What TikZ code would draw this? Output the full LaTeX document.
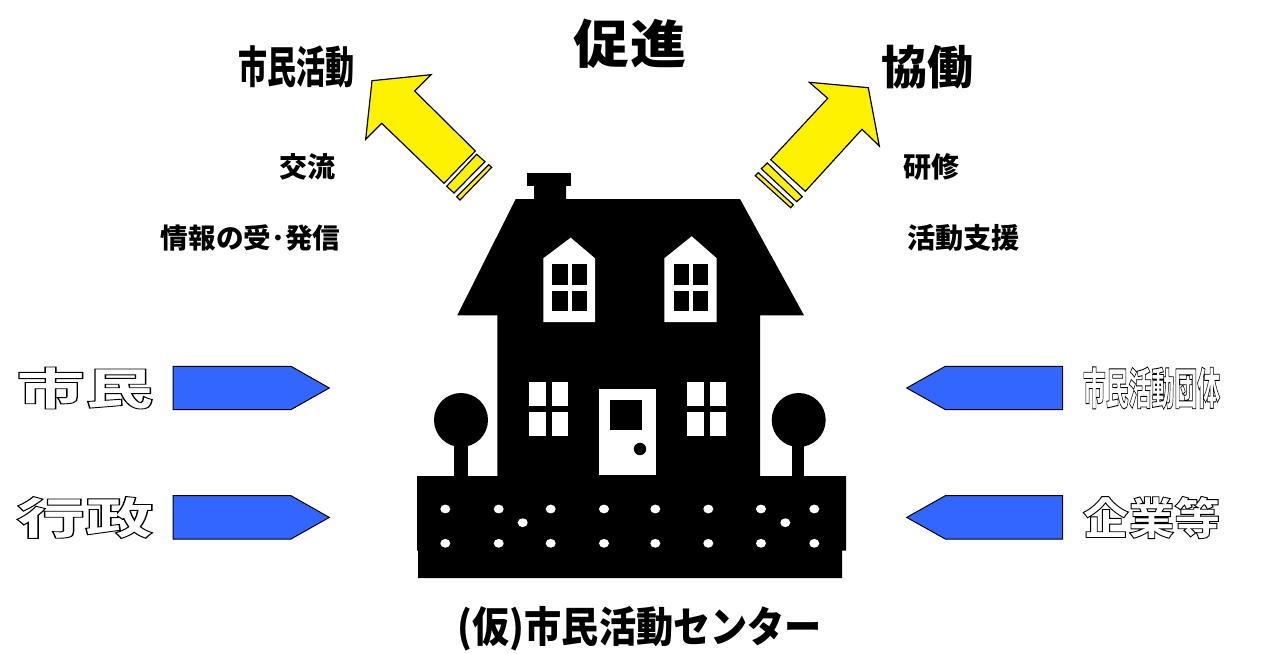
\documentclass[tikz,border=0pt]{standalone}
\usepackage{fontspec}
\usepackage{tikz}
\newfontfamily\jpfont{Noto Sans CJK JP}
\newcommand{\outlined}[1]{\special{pdf:code q 2 Tr 0.9 w 0 0 0 RG 1 1 1 rg}#1\special{pdf:code Q}}
\tikzset{
    label text/.style={inner sep=0pt,font=\jpfont\bfseries\fontsize{#1}{#1}\selectfont},
    squeeze/.style={xscale=#1,transform shape},
    outline text/.style={inner sep=0pt,font=\jpfont\bfseries\fontsize{#1}{#1}\selectfont},
    big arrow/.style={draw=black,line width=1.2pt,fill=yellow,line join=miter},
    side arrow/.style={draw=black,line width=1pt,fill=sideblue},
    silhouette/.style={fill=black},
    cutout/.style={fill=white}
}
\definecolor{sideblue}{HTML}{3366FF}
\begin{document}
\begin{tikzpicture}[x=1pt,y=-1pt]
    \useasboundingbox (0,0) rectangle (1271,653);
    % headings
    \node [label text=52,squeeze=1.08] (promote) at (630,44) {促進};
    \node [label text=44,squeeze=0.66] (activity) at (296.5,67) {市民活動};
    \node [label text=46,squeeze=1.0] (collab) at (927,67) {協働};
    % small captions
    \node [label text=28] (exchange) at (307,167) {交流};
    \node [label text=27.6] (info) at (250.5,238) {情報の受･発信};
    \node [label text=28] (training) at (931,167) {研修};
    \node [label text=28.2] (support) at (963.5,238) {活動支援};
    \node [label text=42,squeeze=0.885] (center) at (640,628.5) {(仮)市民活動センター};
    % outlined names beside the blue arrows
    \node [outline text=44,squeeze=1.56] (citizen) at (85,388) {\outlined{市民}};
    \node [outline text=44,squeeze=1.56] (admin) at (85,517.5) {\outlined{行政}};
    \node [outline text=44,squeeze=0.52] (groups) at (1151.5,388) {\outlined{市民活動団体}};
    \node [outline text=44,squeeze=1.04] (company) at (1151.5,517.5) {\outlined{企業等}};
    % blue arrows
    \foreach \y in {366.3,495.7} {
        \draw [side arrow] (173,\y) -- (291,\y) -- (329.3,\y+21.7) -- (291,\y+43.3) -- (173,\y+43.3) -- cycle;
        \draw [side arrow] (1062.7,\y) -- (945.3,\y) -- (906.7,\y+21.7) -- (945.3,\y+43.3) -- (1062.7,\y+43.3) -- cycle;
    }
    % yellow arrows
    \draw [big arrow] (372,80.7) -- (431,74.7) -- (414.7,91) -- (475.3,151) -- (444,183.3) -- (381.7,123.3) -- (365.7,139.3) -- cycle;
    \draw [big arrow] (476.7,154.3) -- (485,161.7) -- (454,193) -- (446.7,186.3) -- cycle;
    \draw [big arrow] (488.7,164.7) -- (491.7,167.3) -- (460,200) -- (456.7,196.7) -- cycle;
    \draw [big arrow] (868.3,87.7) -- (879.3,146) -- (862,129.3) -- (805.3,191.3) -- (770.7,159.7) -- (827.7,98.3) -- (809.3,82.3) -- cycle;
    \draw [big arrow] (767.3,163) -- (802.3,196.7) -- (796.7,201.7) -- (761.3,168.7) -- cycle;
    \draw [big arrow] (758.3,172.7) -- (793.3,204.7) -- (790.7,207.7) -- (755.3,175.7) -- cycle;
    % house
    \fill [silhouette] (527,173) rectangle (571,186);
    \fill [silhouette] (534,186) -- (566,186) -- (566,199) -- (740,199) -- (804,315.3) -- (760,315.3) -- (760,476)
        -- (846,476) -- (846,550.7) -- (842,550.7) -- (842,578) -- (418,578) -- (418,550.7) -- (417,550.7) -- (417,476)
        -- (497.3,476) -- (497.3,315.3) -- (457.3,315.3) -- (515.7,199) -- (534,199) -- cycle;
    % dormers
    \fill [cutout] (543.3,322) -- (543.3,258.3) -- (570.7,237.7) -- (595,258.3) -- (595,322) -- cycle;
    \fill [cutout] (664.3,322) -- (664.3,258.3) -- (691.7,236.3) -- (716.7,258.3) -- (716.7,322) -- cycle;
    \foreach \a/\b in {552/568,572.3/587,674/689,693.3/708} {
        \fill [silhouette] (\a,264) rectangle (\b,285);
        \fill [silhouette] (\a,291) rectangle (\b,311);
    }
    % lower windows
    \foreach \a/\b in {529/546,552/568,687/704,710/726} {
        \fill [cutout] (\a,382) rectangle (\b,406);
        \fill [cutout] (\a,412) rectangle (\b,436);
    }
    % door
    \fill [cutout] (599,389) rectangle (656,475);
    \fill [silhouette] (610,400) rectangle (642,430);
    \fill [silhouette] (640,449) circle (6.2);
    % trees
    \fill [silhouette] (461,420) circle (27);
    \fill [silhouette] (454.3,440) rectangle (467.7,477);
    \fill [silhouette] (798.7,420) circle (27);
    \fill [silhouette] (792.3,440) rectangle (804.3,477);
    % stones in the wall
    \foreach \x in {445.3,498.7,550.7,604,655.3,708.3,761,814.3} {
        \fill [cutout] (\x,509) ellipse (5 and 4.4);
        \fill [cutout] (\x,543.3) ellipse (5 and 4.4);
    }
    \fill [cutout] (522.7,522.7) ellipse (5 and 4.4);
    \fill [cutout] (785.3,522.7) ellipse (5 and 4.4);
\end{tikzpicture}
\end{document}
